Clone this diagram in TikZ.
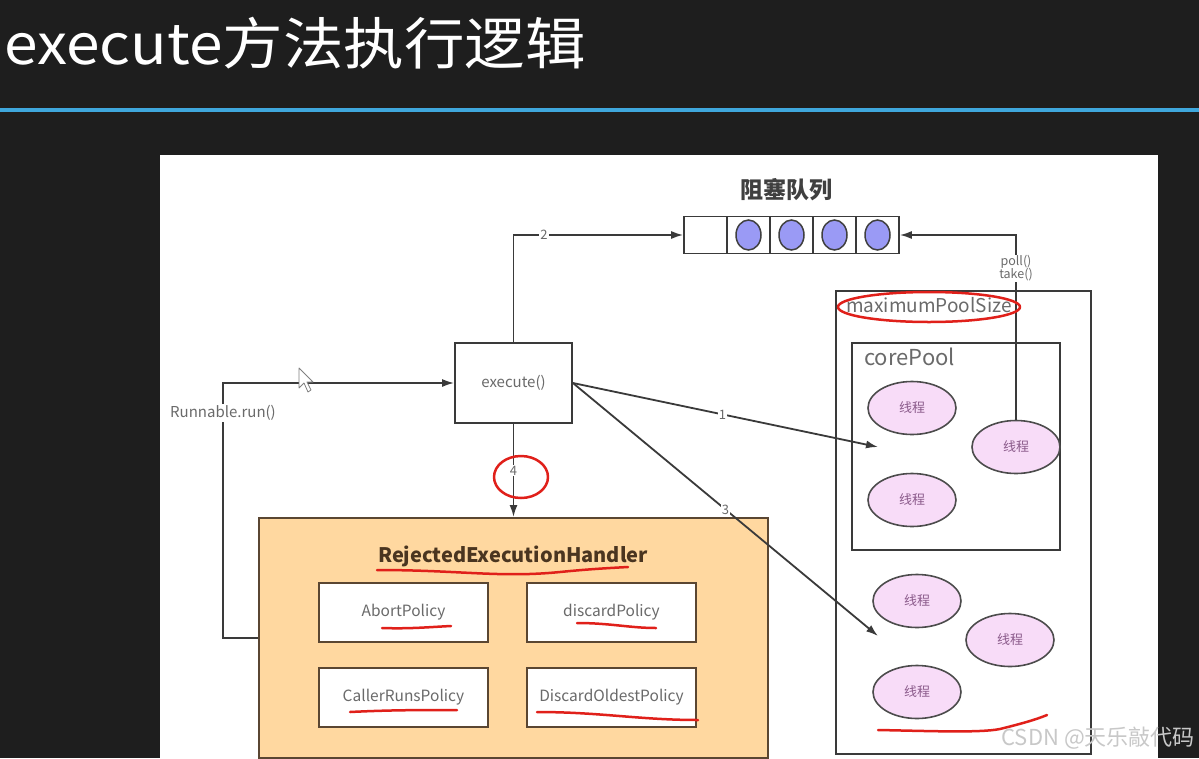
\documentclass[tikz,border=0pt]{standalone}
\usepackage{fontspec}
\setmainfont{Noto Sans CJK SC}
\newfontfamily\titlefont[FakeStretch=1.08]{Noto Sans CJK SC}
\usetikzlibrary{arrows.meta,shapes.geometric,calc}
\definecolor{bg}{HTML}{1E1E1E}
\definecolor{blueline}{HTML}{3FA7DC}
\definecolor{conn}{HTML}{3A3A3A}
\definecolor{queuefill}{HTML}{9A9AF5}
\definecolor{threadfill}{HTML}{F8DCF8}
\definecolor{threadtext}{HTML}{8A5A8A}
\definecolor{handlerfill}{HTML}{FFD8A0}
\definecolor{handlerdraw}{HTML}{5A4632}
\definecolor{handlertext}{HTML}{4A3520}
\definecolor{txtgray}{HTML}{6A6A6A}
\definecolor{redmark}{HTML}{E0201A}
\definecolor{wmark}{HTML}{C8C8C8}
\tikzset{
  fs/.style={font=\fontsize{#1}{#1}\selectfont},
  conn/.style={draw=conn, line width=1.8pt},
  arr/.style={conn, -{Latex[length=12pt,width=8pt]}},
  lbl/.style={fill=white, inner sep=1pt, text=txtgray, fs=13},
  frame/.style={draw=conn, line width=1.8pt, inner sep=0pt},
  thread/.style={ellipse, draw=black!70, line width=1.6pt, fill=threadfill, minimum width=88pt, minimum height=53pt, inner sep=0pt, text=threadtext, fs=13},
  qcell/.style={draw=conn, line width=1.6pt, minimum width=43pt, minimum height=37pt, inner sep=0pt, fill=white},
  qball/.style={ellipse, draw=black!75, line width=1.5pt, fill=queuefill, minimum width=25pt, minimum height=30pt, inner sep=0pt},
  policy/.style={draw=handlerdraw, line width=2pt, fill=white, minimum width=169pt, minimum height=59pt, inner sep=0pt, text=txtgray, fs=15.5},
  redpen/.style={draw=redmark, line width=2.5pt, line cap=round, line join=round},
}
\begin{document}
\begin{tikzpicture}[x=1pt,y=-1pt]
% background
\fill[bg] (0,0) rectangle (1199,758);
\useasboundingbox (0,0) rectangle (1199,758);
\fill[blueline] (0,108) rectangle (1199,112);
\node[anchor=west, text=white, font=\titlefont\fontsize{56}{56}\selectfont, inner sep=0pt] (title) at (4,43) {execute方法执行逻辑};
% panel
\fill[white] (160,155) rectangle (1158,758);

% pool boxes
\node[frame, minimum width=255pt, minimum height=463pt] (maxbox) at (963.5,522.5) {};
\node[frame, minimum width=208pt, minimum height=207pt] (corebox) at (956,446.5) {};
\node[anchor=west, text=txtgray, fs=19, inner sep=0pt] (maxlbl) at (846,305) {maximumPoolSize};
\node[anchor=west, text=txtgray, fs=22, inner sep=0pt] (corelbl) at (864,357) {corePool};

% threads
\node[thread] (tc1) at (912,408) {线程};
\node[thread] (tc2) at (912,500) {线程};
\node[thread] (tc3) at (1016,447) {线程};
\node[thread] (t4) at (917,601) {线程};
\node[thread] (t5) at (1010,640) {线程};
\node[thread] (t6) at (917,692) {线程};

% queue
\node[font=\bfseries\fontsize{23}{23}\selectfont, text=black!75] (qtitle) at (786,190) {阻塞队列};
\node[qcell] (q0) at (705.5,235) {};
\node[qcell] (q1) at (748.5,235) {};
\node[qcell] (q2) at (791.5,235) {};
\node[qcell] (q3) at (834.5,235) {};
\node[qcell] (q4) at (877.5,235) {};
\node[qball] (b1) at (q1) {};
\node[qball] (b2) at (q2) {};
\node[qball] (b3) at (q3) {};
\node[qball] (b4) at (q4) {};

% execute box
\node[frame, minimum width=117pt, minimum height=80pt, text=txtgray, fs=15] (exec) at (513.5,383) {execute()};

% handler
\node[draw=handlerdraw, line width=2pt, fill=handlerfill, minimum width=509pt, minimum height=240pt, inner sep=0pt] (handler) at (513.5,638) {};
\node[text=handlertext, font=\bfseries\fontsize{20}{20}\selectfont] (htitle) at (513,556) {RejectedExecutionHandler};
\node[policy] (abort) at (403.5,612.5) {AbortPolicy};
\node[policy] (discard) at (611.5,612.5) {discardPolicy};
\node[policy] (caller) at (403.5,697.5) {CallerRunsPolicy};
\node[policy] (oldest) at (611.5,697.5) {DiscardOldestPolicy};

% connectors
\coordinate (a1end) at (878,447);
\coordinate (a3end) at (878,636);
\coordinate (rc) at (223,383);
\draw[arr] (exec.north) |- (q0.west) node[lbl, pos=0.59] {2};
\draw[arr] (tc3.north) |- (q4.east) node[lbl, pos=0.41, align=center, fs=12.5, inner sep=0.5pt] {poll()\\[-1pt]take()};
\draw[arr] (exec.east) -- (a1end) node[lbl, pos=0.49] {1};
\draw[arr] (exec.east) -- (a3end) node[lbl, pos=0.5] {3};
\draw[arr] (exec.south) -- (handler.north) node[lbl, pos=0.5] {4};
\draw[arr] (handler.west) -| (rc) -- (exec.west);
\node[lbl, fs=15] (rlbl) at (223,413) {Runnable.run()};

% mouse cursor
\draw[fill=white, draw=gray, line width=0.8pt, line join=round] (299,368) -- (299,388) -- (304,383) -- (308,392) -- (311,390) -- (307,382) -- (313,382) -- cycle;

% red hand marks
\draw[redpen] (521,477) ellipse [x radius=27, y radius=21];
\draw[redpen] (929,307) ellipse [x radius=91, y radius=15];
\draw[redpen] (377,570) .. controls (460,570) and (500,578) .. (560,572) .. controls (590,569) and (610,568) .. (628,567);
\draw[redpen] (382,628) .. controls (410,629) and (430,627) .. (451,626);
\draw[redpen] (577,623) .. controls (610,623) and (630,628) .. (656,628);
\draw[redpen] (350,712) .. controls (390,710) and (420,710) .. (457,710);
\draw[redpen] (537,712) .. controls (600,712) and (640,720) .. (698,720);
\draw[redpen] (878,730) .. controls (930,731) and (980,733) .. (1000,729) .. controls (1020,724) and (1035,720) .. (1047,715);

% watermark
\node[anchor=east, text=wmark, fs=22, inner sep=0pt] (wm) at (1195,738) {CSDN @天乐敲代码};
\end{tikzpicture}
\end{document}
